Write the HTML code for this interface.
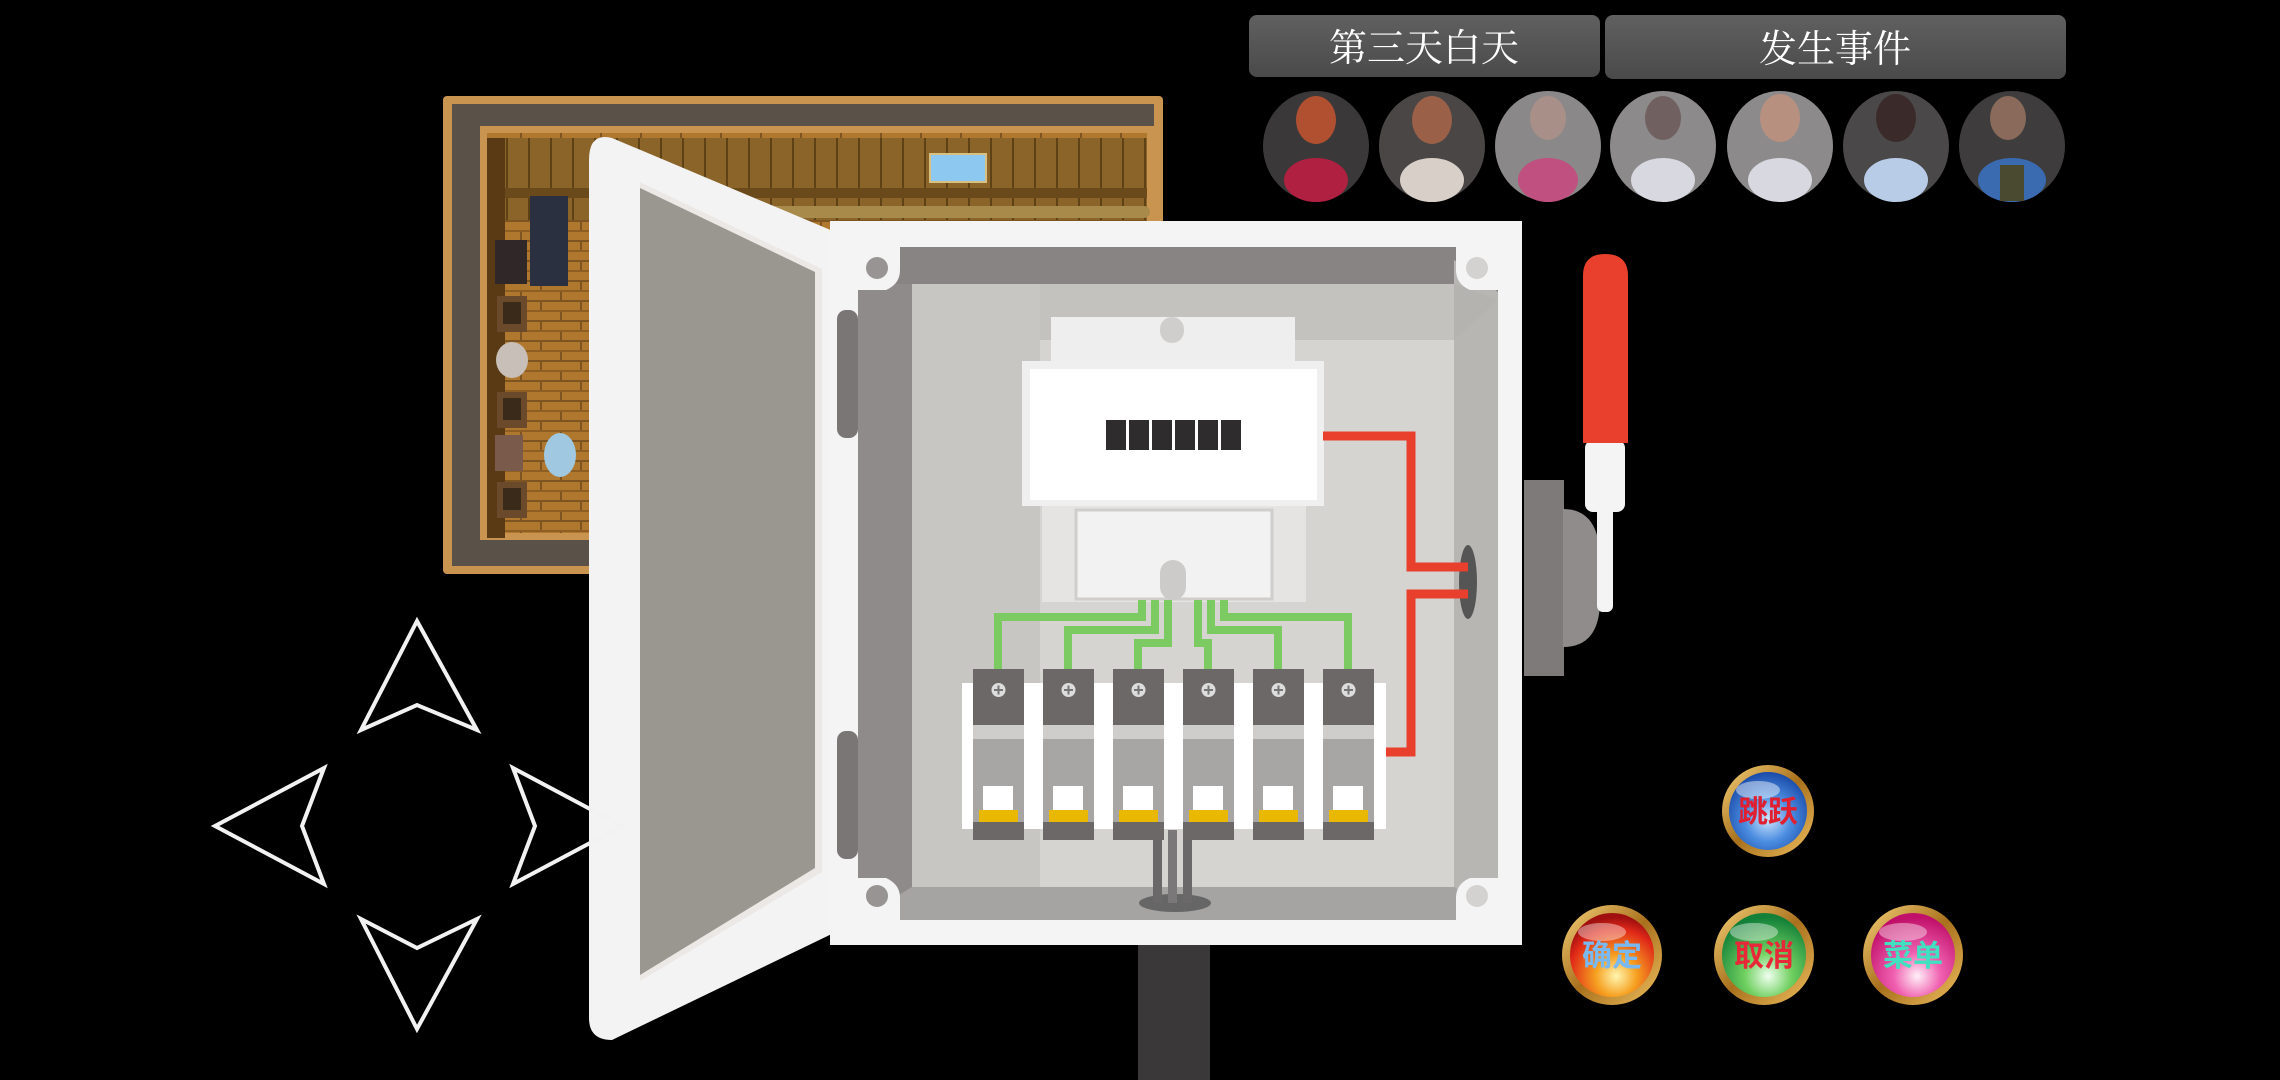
<!DOCTYPE html>
<html><head><meta charset="utf-8"><style>
html,body{margin:0;padding:0;background:#000;width:2280px;height:1080px;overflow:hidden}
svg{display:block}
</style></head><body>
<svg width="2280" height="1080" viewBox="0 0 2280 1080" xmlns="http://www.w3.org/2000/svg">
<defs>
<linearGradient id="bar" x1="0" y1="0" x2="0" y2="1"><stop offset="0" stop-color="#606060"/><stop offset="1" stop-color="#4a4a4a"/></linearGradient>
<pattern id="planks" width="22" height="60" patternUnits="userSpaceOnUse"><rect width="22" height="60" fill="#8a6428"/><rect width="2" height="60" fill="#5e4216"/></pattern>
<pattern id="floor" width="40" height="20" patternUnits="userSpaceOnUse"><rect width="40" height="20" fill="#b0782e"/><rect y="0" width="40" height="2" fill="#7e5420"/><rect x="20" y="0" width="2" height="10" fill="#7e5420"/><rect x="0" y="10" width="2" height="10" fill="#7e5420"/><rect y="10" width="40" height="2" fill="#8e5e22"/></pattern>
<radialGradient id="gBlue" cx="0.5" cy="0.6" r="0.6"><stop offset="0" stop-color="#cfe6ff"/><stop offset="0.5" stop-color="#4a8ce0"/><stop offset="1" stop-color="#1a4aa8"/></radialGradient>
<radialGradient id="gRed" cx="0.55" cy="0.75" r="0.7"><stop offset="0" stop-color="#fff6b0"/><stop offset="0.35" stop-color="#f6a020"/><stop offset="0.8" stop-color="#e02818"/><stop offset="1" stop-color="#a01010"/></radialGradient>
<radialGradient id="gGreen" cx="0.55" cy="0.75" r="0.7"><stop offset="0" stop-color="#f0fff0"/><stop offset="0.4" stop-color="#70d060"/><stop offset="1" stop-color="#128038"/></radialGradient>
<radialGradient id="gPink" cx="0.55" cy="0.75" r="0.7"><stop offset="0" stop-color="#fff0f8"/><stop offset="0.4" stop-color="#f060b0"/><stop offset="1" stop-color="#c0106a"/></radialGradient>
<linearGradient id="gold" x1="0" y1="0" x2="1" y2="1"><stop offset="0" stop-color="#f6d27a"/><stop offset="0.5" stop-color="#a8701c"/><stop offset="1" stop-color="#f0c060"/></linearGradient>
<radialGradient id="face" cx="0.5" cy="0.35" r="0.6"><stop offset="0" stop-color="#d8b8a0"/><stop offset="1" stop-color="#6a6060"/></radialGradient>
</defs>

<!-- Title bars -->
<rect x="1249" y="15" width="351" height="62" rx="8" fill="url(#bar)"/>
<rect x="1605" y="15" width="461" height="64" rx="8" fill="url(#bar)"/>
<text x="1424" y="61" font-family="'Liberation Serif','Noto Serif CJK SC',serif" font-size="38" fill="#fff" text-anchor="middle">第三天白天</text>
<text x="1835" y="62" font-family="'Liberation Serif','Noto Serif CJK SC',serif" font-size="38" fill="#fff" text-anchor="middle">发生事件</text>

<!-- Portraits -->
<g>
<ellipse cx="1316" cy="146" rx="53" ry="55" fill="#3a3838"/><ellipse cx="1316" cy="120" rx="20" ry="24" fill="#b05030"/><ellipse cx="1316" cy="180" rx="32" ry="22" fill="#b02040"/>
<ellipse cx="1432" cy="146" rx="53" ry="55" fill="#4a4646"/><ellipse cx="1432" cy="120" rx="20" ry="24" fill="#9a6048"/><ellipse cx="1432" cy="180" rx="32" ry="22" fill="#d8d0c8"/>
<ellipse cx="1548" cy="146" rx="53" ry="55" fill="#8a8888"/><ellipse cx="1548" cy="118" rx="18" ry="22" fill="#a89088"/><ellipse cx="1548" cy="180" rx="30" ry="22" fill="#c05080"/>
<ellipse cx="1663" cy="146" rx="53" ry="55" fill="#8c8a8a"/><ellipse cx="1663" cy="118" rx="18" ry="22" fill="#706060"/><ellipse cx="1663" cy="180" rx="32" ry="22" fill="#d8d8e0"/>
<ellipse cx="1780" cy="146" rx="53" ry="55" fill="#8c8a8a"/><ellipse cx="1780" cy="118" rx="20" ry="24" fill="#b89080"/><ellipse cx="1780" cy="180" rx="32" ry="22" fill="#d8d8e0"/>
<ellipse cx="1896" cy="146" rx="53" ry="55" fill="#4a4848"/><ellipse cx="1896" cy="118" rx="20" ry="24" fill="#3a2a2a"/><ellipse cx="1896" cy="180" rx="32" ry="22" fill="#b8cce8"/>
<ellipse cx="2012" cy="146" rx="53" ry="55" fill="#3e3c3c"/><ellipse cx="2008" cy="118" rx="18" ry="22" fill="#8a6a5a"/><ellipse cx="2012" cy="180" rx="34" ry="22" fill="#3a6ab0"/><rect x="2000" y="165" width="24" height="36" fill="#4a4a30"/>
</g>

<!-- Room map -->
<rect x="443" y="96" width="720" height="478" rx="4" fill="#c89450"/>
<rect x="452" y="104" width="702" height="462" fill="#5a5248"/>
<rect x="480" y="126" width="676" height="414" fill="#c89450"/>
<rect x="487" y="133" width="660" height="400" fill="url(#floor)"/>
<rect x="487" y="138" width="660" height="50" fill="url(#planks)"/>
<rect x="487" y="188" width="660" height="10" fill="#6a4a1a"/>
<rect x="487" y="198" width="660" height="22" fill="url(#planks)"/>
<rect x="760" y="206" width="390" height="12" rx="6" fill="#a88a4a"/>
<rect x="930" y="154" width="56" height="28" fill="#8cc8f0" stroke="#d8c080" stroke-width="2"/>
<rect x="487" y="138" width="18" height="400" fill="#5a3a14"/>
<rect x="530" y="196" width="38" height="90" fill="#2a3040"/>
<rect x="495" y="240" width="32" height="44" fill="#302828"/>
<rect x="497" y="296" width="30" height="36" fill="#6a4a2a"/><rect x="503" y="302" width="18" height="22" fill="#3a2a1a"/>
<rect x="497" y="392" width="30" height="36" fill="#6a4a2a"/><rect x="503" y="398" width="18" height="22" fill="#3a2a1a"/>
<rect x="497" y="482" width="30" height="36" fill="#6a4a2a"/><rect x="503" y="488" width="18" height="22" fill="#3a2a1a"/>
<ellipse cx="512" cy="360" rx="16" ry="18" fill="#c8c0b8"/>
<rect x="495" y="435" width="28" height="36" fill="#7a5a4a"/>
<ellipse cx="560" cy="455" rx="16" ry="22" fill="#a0c8e0"/>

<!-- Door -->
<path d="M589 160 Q589 132 612 138 L840 234 L840 930 L612 1040 Q589 1040 589 1018 Z" fill="#f4f3f3"/>
<path d="M640 182 L822 269 L822 872 L640 981 Z" fill="#ebe8e5"/>
<path d="M640 188 L815 272 L815 868 L640 975 Z" fill="#9a9690"/>

<!-- Box -->
<rect x="830" y="221" width="692" height="724" fill="#f4f4f4"/>
<rect x="858" y="247" width="640" height="673" fill="#878483"/>
<path d="M858 284 L912 284 L912 887 L858 920 Z" fill="#8e8b8a"/>
<rect x="912" y="284" width="542" height="603" fill="#c8c6c3"/>
<path d="M1040 284 L1454 284 L1454 887 L1040 887 Z" fill="#d6d4d1"/>
<path d="M1454 260 L1498 292 L1498 920 L1454 887 Z" fill="#b8b6b3"/>
<path d="M912 887 L1454 887 L1498 920 L858 920 Z" fill="#a6a4a2"/>
<path d="M1040 284 L1454 284 L1498 300 L1454 340 L1040 340 Z" fill="#b2b0ad" opacity="0.5"/>
<!-- corner cutouts with screws -->
<path d="M858 247 L900 247 L900 270 Q900 284 886 290 L858 290 Z" fill="#f4f4f4"/>
<path d="M1498 247 L1456 247 L1456 270 Q1456 284 1470 290 L1498 290 Z" fill="#f4f4f4"/>
<path d="M858 920 L900 920 L900 898 Q900 884 886 878 L858 878 Z" fill="#f4f4f4"/>
<path d="M1498 920 L1456 920 L1456 898 Q1456 884 1470 878 L1498 878 Z" fill="#f4f4f4"/>
<circle cx="877" cy="268" r="11" fill="#979493"/>
<circle cx="1477" cy="268" r="11" fill="#d4d2d0"/>
<circle cx="877" cy="896" r="11" fill="#979493"/>
<circle cx="1477" cy="896" r="11" fill="#d4d2d0"/>
<!-- hinges -->
<rect x="837" y="310" width="21" height="128" rx="9" fill="#7a7676"/>
<rect x="837" y="731" width="21" height="128" rx="9" fill="#7a7676"/>

<!-- Meter -->
<rect x="1051" y="317" width="244" height="46" fill="#eeeeee"/>
<rect x="1160" y="317" width="24" height="26" rx="12" fill="#d0cecc"/>
<rect x="1022" y="361" width="302" height="145" fill="#efefef"/>
<rect x="1030" y="369" width="287" height="131" fill="#ffffff"/>
<rect x="1042" y="506" width="264" height="96" fill="#e6e4e2"/>
<rect x="1076" y="510" width="196" height="89" fill="#f2f2f2" stroke="#d0cecc" stroke-width="3"/>
<rect x="1160" y="560" width="26" height="40" rx="13" fill="#cdcbc9"/>
<g fill="#2e2c2c">
<rect x="1106" y="420" width="20" height="30"/><rect x="1129" y="420" width="20" height="30"/><rect x="1152" y="420" width="20" height="30"/><rect x="1175" y="420" width="20" height="30"/><rect x="1198" y="420" width="20" height="30"/><rect x="1221" y="420" width="20" height="30"/>
</g>

<!-- Green wires -->
<g stroke="#7ccb62" stroke-width="8" fill="none" stroke-linejoin="miter">
<path d="M998 672 L998 617 L1142 617 L1142 600"/>
<path d="M1068 672 L1068 630 L1155 630 L1155 600"/>
<path d="M1138 672 L1138 643 L1168 643 L1168 600"/>
<path d="M1208 672 L1208 643 L1198 643 L1198 600"/>
<path d="M1278 672 L1278 630 L1211 630 L1211 600"/>
<path d="M1348 672 L1348 617 L1224 617 L1224 600"/>
</g>

<!-- Red wire -->
<ellipse cx="1468" cy="582" rx="9" ry="37" fill="#555"/>
<g stroke="#e8402c" stroke-width="9" fill="none">
<path d="M1323 436 L1411 436 L1411 567 L1468 567"/>
<path d="M1468 594 L1411 594 L1411 752 L1386 752"/>
</g>

<!-- Breakers -->
<rect x="962" y="683" width="424" height="146" fill="#ffffff"/>
<g id="brk">
</g>
<g>
<g transform="translate(973,0)"><rect y="669" width="51" height="56" fill="#6c6867"/><rect y="725" width="51" height="14" fill="#cfcdcb"/><rect y="739" width="51" height="101" fill="#a8a6a5"/><rect x="10" y="786" width="30" height="26" fill="#fff"/><rect x="6" y="810" width="39" height="12" fill="#e9b800"/><rect y="822" width="51" height="18" fill="#6c6867"/><circle cx="25.5" cy="690" r="7" fill="#ddd"/><path d="M21 690h9M25.5 685.5v9" stroke="#777" stroke-width="2"/></g>
<g transform="translate(1043,0)"><rect y="669" width="51" height="56" fill="#6c6867"/><rect y="725" width="51" height="14" fill="#cfcdcb"/><rect y="739" width="51" height="101" fill="#a8a6a5"/><rect x="10" y="786" width="30" height="26" fill="#fff"/><rect x="6" y="810" width="39" height="12" fill="#e9b800"/><rect y="822" width="51" height="18" fill="#6c6867"/><circle cx="25.5" cy="690" r="7" fill="#ddd"/><path d="M21 690h9M25.5 685.5v9" stroke="#777" stroke-width="2"/></g>
<g transform="translate(1113,0)"><rect y="669" width="51" height="56" fill="#6c6867"/><rect y="725" width="51" height="14" fill="#cfcdcb"/><rect y="739" width="51" height="101" fill="#a8a6a5"/><rect x="10" y="786" width="30" height="26" fill="#fff"/><rect x="6" y="810" width="39" height="12" fill="#e9b800"/><rect y="822" width="51" height="18" fill="#6c6867"/><circle cx="25.5" cy="690" r="7" fill="#ddd"/><path d="M21 690h9M25.5 685.5v9" stroke="#777" stroke-width="2"/></g>
<g transform="translate(1183,0)"><rect y="669" width="51" height="56" fill="#6c6867"/><rect y="725" width="51" height="14" fill="#cfcdcb"/><rect y="739" width="51" height="101" fill="#a8a6a5"/><rect x="10" y="786" width="30" height="26" fill="#fff"/><rect x="6" y="810" width="39" height="12" fill="#e9b800"/><rect y="822" width="51" height="18" fill="#6c6867"/><circle cx="25.5" cy="690" r="7" fill="#ddd"/><path d="M21 690h9M25.5 685.5v9" stroke="#777" stroke-width="2"/></g>
<g transform="translate(1253,0)"><rect y="669" width="51" height="56" fill="#6c6867"/><rect y="725" width="51" height="14" fill="#cfcdcb"/><rect y="739" width="51" height="101" fill="#a8a6a5"/><rect x="10" y="786" width="30" height="26" fill="#fff"/><rect x="6" y="810" width="39" height="12" fill="#e9b800"/><rect y="822" width="51" height="18" fill="#6c6867"/><circle cx="25.5" cy="690" r="7" fill="#ddd"/><path d="M21 690h9M25.5 685.5v9" stroke="#777" stroke-width="2"/></g>
<g transform="translate(1323,0)"><rect y="669" width="51" height="56" fill="#6c6867"/><rect y="725" width="51" height="14" fill="#cfcdcb"/><rect y="739" width="51" height="101" fill="#a8a6a5"/><rect x="10" y="786" width="30" height="26" fill="#fff"/><rect x="6" y="810" width="39" height="12" fill="#e9b800"/><rect y="822" width="51" height="18" fill="#6c6867"/><circle cx="25.5" cy="690" r="7" fill="#ddd"/><path d="M21 690h9M25.5 685.5v9" stroke="#777" stroke-width="2"/></g>
</g>
<!-- bottom cables -->
<ellipse cx="1175" cy="903" rx="36" ry="9" fill="#666"/>
<rect x="1153" y="840" width="9" height="63" fill="#6a6868"/>
<rect x="1168" y="830" width="9" height="73" fill="#7a7878"/>
<rect x="1183" y="840" width="9" height="63" fill="#6a6868"/>
<rect x="1138" y="945" width="72" height="135" fill="#3a3838"/>

<!-- Handle -->
<rect x="1524" y="480" width="40" height="196" fill="#7d7a79"/>
<path d="M1563 509 Q1600 509 1600 560 L1600 600 Q1600 647 1563 647 Z" fill="#8f8c8b"/>
<rect x="1597" y="500" width="16" height="112" rx="6" fill="#f4f4f4"/>
<rect x="1585" y="440" width="40" height="72" rx="8" fill="#f4f4f4"/>
<path d="M1583 276 Q1583 254 1605 254 Q1628 254 1628 276 L1628 443 L1583 443 Z" fill="#e8402c"/>

<!-- Arrows -->
<g fill="none" stroke="#f2f2f2" stroke-width="4" stroke-linejoin="miter">
<path d="M417 621 L361 730 L417 705 L477 730 Z"/>
<path d="M215 826 L324 768 L302 826 L324 884 Z"/>
<path d="M622 826 L513 768 L535 826 L513 884 Z"/>
<path d="M417 1029 L361 919 L417 948 L477 919 Z"/>
</g>

<!-- Gem buttons -->
<g font-family="'Liberation Sans','Noto Sans CJK SC',sans-serif" font-size="30" text-anchor="middle" font-weight="bold">
<circle cx="1768" cy="811" r="46" fill="url(#gold)"/><circle cx="1768" cy="811" r="39" fill="url(#gBlue)"/><ellipse cx="1758" cy="790" rx="22" ry="9" fill="#fff" opacity="0.45"/>
<text x="1768" y="822" fill="#e02030">跳跃</text>
<circle cx="1612" cy="955" r="50" fill="url(#gold)"/><circle cx="1612" cy="955" r="42" fill="url(#gRed)"/><ellipse cx="1602" cy="932" rx="24" ry="9" fill="#fff" opacity="0.4"/>
<text x="1612" y="966" fill="#7ab8f0">确定</text>
<circle cx="1764" cy="955" r="50" fill="url(#gold)"/><circle cx="1764" cy="955" r="42" fill="url(#gGreen)"/><ellipse cx="1754" cy="932" rx="24" ry="9" fill="#fff" opacity="0.4"/>
<text x="1764" y="966" fill="#e82838">取消</text>
<circle cx="1913" cy="955" r="50" fill="url(#gold)"/><circle cx="1913" cy="955" r="42" fill="url(#gPink)"/><ellipse cx="1903" cy="932" rx="24" ry="9" fill="#fff" opacity="0.4"/>
<text x="1913" y="966" fill="#40e0c0">菜单</text>
</g>
</svg>
</body></html>
